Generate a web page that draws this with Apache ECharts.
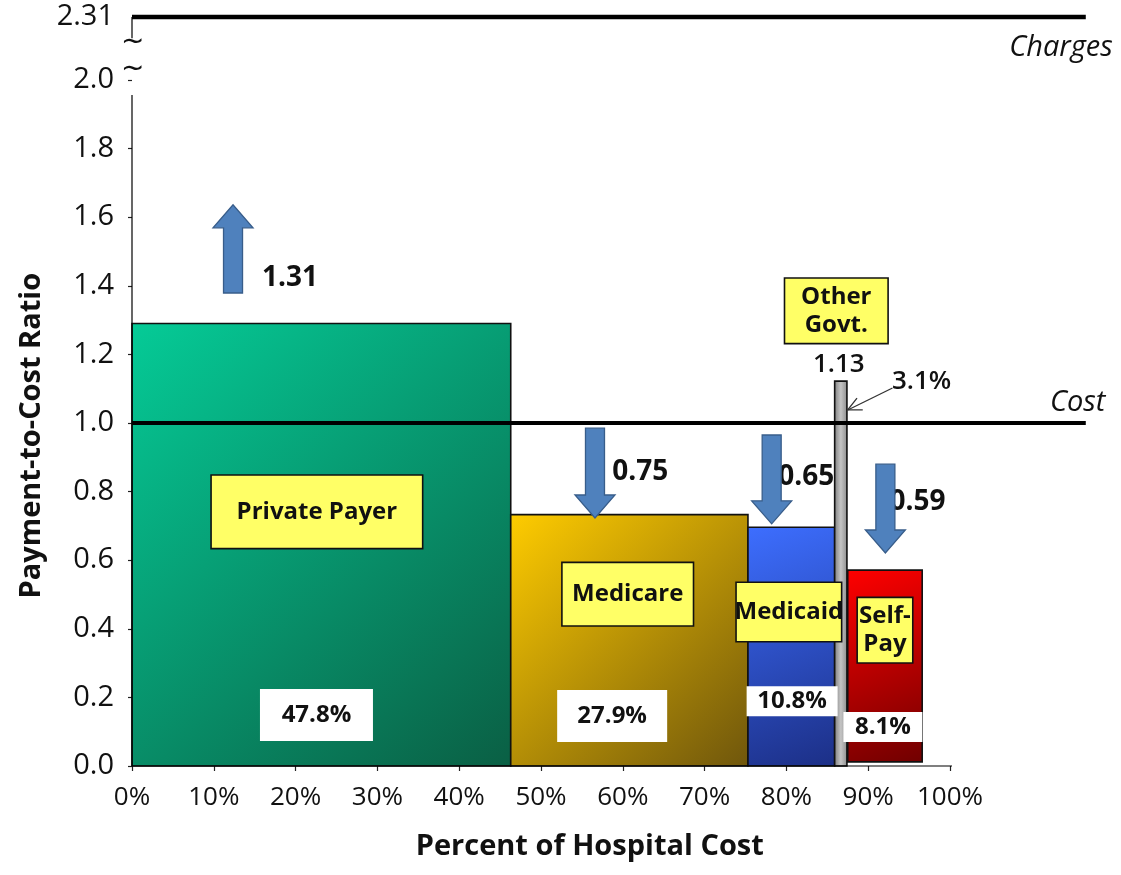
<!DOCTYPE html>
<html><head><meta charset="utf-8">
<script src="https://cdn.jsdelivr.net/npm/echarts@6/dist/echarts.min.js"></script>
<style>html,body{margin:0;padding:0;background:#fff}#c{width:1121px;height:875px}</style>
</head><body><div id="c"></div>
<script>
// ---------- data ----------
const categories   = ['Private Payer', 'Medicare', 'Medicaid', 'Other Govt.', 'Self-Pay'];
const boxText      = ['Private Payer', 'Medicare', 'Medicaid', 'Other\nGovt.', 'Self-\nPay'];
const shareStart   = [0, 46.3, 75.3, 85.9, 87.5];      // % of hospital cost (drawn)
const shareEnd     = [46.3, 75.3, 85.9, 87.4, 96.6];
const barTop       = [1.29, 0.733, 0.696, 1.122, 0.571]; // payment-to-cost ratio (drawn)
const barBase      = [0, 0, 0, 0, 0.012];
const ratioLabels  = ['1.31', '0.75', '0.65', '1.13', '0.59'];
const shareLabels  = ['47.8%', '27.9%', '10.8%', '3.1%', '8.1%'];
const costLevel    = 1.0;
const chargesLevel = 2.184;   // drawn position of the broken-axis 2.31 line
const chargesTick  = '2.31';
const xTicks = [0, 10, 20, 30, 40, 50, 60, 70, 80, 90, 100];
const yTicks = [0, 0.2, 0.4, 0.6, 0.8, 1.0, 1.2, 1.4, 1.6, 1.8, 2.0];
// arrows: x, from, to (data units)
const arrowX    = [12.35, 56.6, 78.2, 92.1];
const arrowFrom = [1.379, 0.985, 0.965, 0.880];
const arrowTo   = [1.636, 0.723, 0.706, 0.621];

// ---------- annotation anchors (data units) ----------
const boxAnchor   = [[22.6, 0.741], [60.6, 0.501], [80.3, 0.449], [86.1, 1.327], [92.05, 0.396]];
const shareAnchor = [[22.55, 0.149], [58.7, 0.146], [80.7, 0.189], null, [91.8, 0.114]];
const ratioAnchor = [[15.9, 1.423], [58.7, 0.857], [79.0, 0.843], [86.4, 1.169], [92.6, 0.770]];
const pctOtherAnchor = [92.9, 1.12];
const pointer = [[92.97, 1.102], [87.5, 1.038]];

const FONT = "'Open Sans', 'DejaVu Sans', sans-serif";
const G = echarts.graphic.LinearGradient;
const fills = [
  new G(0, 0, 1, 1, [{offset: 0, color: '#05CB97'}, {offset: 1, color: '#0A5F44'}]),
  new G(0, 0, 1, 1, [{offset: 0, color: '#FFCC00'}, {offset: 1, color: '#6F560C'}]),
  new G(0, 0, 1, 1, [{offset: 0, color: '#3D6EFF'}, {offset: 1, color: '#1C2F86'}]),
  new G(0, 0, 1, 0, [{offset: 0, color: '#7A7A7A'}, {offset: 0.5, color: '#C4C4C4'}, {offset: 1, color: '#8A8A8A'}]),
  new G(0, 0, 1, 1, [{offset: 0, color: '#FF0000'}, {offset: 1, color: '#700000'}])
];
// box styling (inner width, vertical padding)
const boxW  = [210, 130, 104, 102, 54];
const boxVP = [22, 17, 15, 4, 4];
const shareW = [113, 110, 91, 0, 79];
const shareVP = [12, 12, 1, 0, 1];

const barData = categories.map((c, i) => [shareStart[i], shareEnd[i], barTop[i], barBase[i], i]);
const arrowData = arrowX.map((x, i) => [x, arrowFrom[i], arrowTo[i]]);
const lineData = [
  [0, 0, 100.25, 0],                 // x axis line
  [0, 0, 0, 1.956],                  // y axis lower part
  [0, 2.122, 0, chargesLevel],       // y axis upper part
  [0, costLevel, 116.6, costLevel],  // Cost
  [0, chargesLevel, 116.6, chargesLevel] // Charges
];
const lineWidths = [1.2, 1.2, 1.2, 4, 4.5];

const boxItems = categories.map((c, i) => ({
  value: boxAnchor[i],
  label: {
    show: true, position: 'inside', formatter: boxText[i],
    backgroundColor: '#FFFF66', borderColor: '#111', borderWidth: 1.6,
    width: boxW[i], padding: [boxVP[i], 0], align: 'center', verticalAlign: 'middle',
    fontFamily: FONT, fontWeight: 'bold', fontSize: 24, lineHeight: 28, color: '#111'
  }
}));
const shareItems = [];
shareLabels.forEach((s, i) => {
  if (!shareAnchor[i]) return;
  shareItems.push({
    value: shareAnchor[i],
    label: {
      show: true, position: 'inside', formatter: s,
      backgroundColor: '#FFFFFF', width: shareW[i], padding: [shareVP[i], 0],
      align: 'center', verticalAlign: 'middle',
      fontFamily: FONT, fontWeight: 'bold', fontSize: 24, lineHeight: 28, color: '#111'
    }
  });
});
const ratioItems = ratioLabels.map((r, i) => ({
  value: ratioAnchor[i],
  label: {
    show: true, position: 'inside', formatter: r,
    align: i === 3 ? 'center' : 'left', verticalAlign: 'middle',
    fontFamily: FONT, fontWeight: i === 3 ? 600 : 'bold', fontSize: i === 3 ? 26 : 28, color: '#111'
  }
}));
ratioItems.push({
  value: pctOtherAnchor,
  label: {show: true, position: 'inside', formatter: shareLabels[3], align: 'left', verticalAlign: 'middle',
          fontFamily: FONT, fontWeight: 600, fontSize: 26, color: '#111'}
});
const textItems = [
  {value: [119.9, 2.093], label: {show: true, position: 'inside', formatter: 'Charges', align: 'right', verticalAlign: 'middle',
     fontFamily: FONT, fontStyle: 'italic', fontSize: 29, color: '#111'}},
  {value: [119.0, 1.06], label: {show: true, position: 'inside', formatter: 'Cost', align: 'right', verticalAlign: 'middle',
     fontFamily: FONT, fontStyle: 'italic', fontSize: 29, color: '#111'}},
  {value: [0.1, 2.108], label: {show: true, position: 'inside', formatter: '~', align: 'center', verticalAlign: 'middle',
     fontFamily: "'DejaVu Sans', sans-serif", fontSize: 28, color: '#111'}},
  {value: [0.1, 2.029], label: {show: true, position: 'inside', formatter: '~', align: 'center', verticalAlign: 'middle',
     fontFamily: "'DejaVu Sans', sans-serif", fontSize: 28, color: '#111'}}
];

const hiddenSym = {symbolSize: 1, itemStyle: {color: 'rgba(0,0,0,0)', opacity: 1}, silent: true};

const option = {
  animation: false,
  backgroundColor: '#ffffff',
  grid: {left: 132, right: 7.4, top: 11.4, bottom: 109},
  xAxis: {
    type: 'value', min: 0, max: 120,
    axisLine: {show: false}, splitLine: {show: false},
    axisTick: {show: true, length: 5, customValues: xTicks, lineStyle: {color: '#222', width: 1.2}},
    axisLabel: {customValues: xTicks, formatter: v => v + '%', margin: 19,
                fontFamily: FONT, fontSize: 26, color: '#111'},
    name: 'Percent of Hospital Cost', nameLocation: 'middle', nameGap: 66,
    nameTextStyle: {fontFamily: FONT, fontWeight: 'bold', fontSize: 29, color: '#111', padding: [0, 66, 0, 0]}
  },
  yAxis: {
    type: 'value', min: 0, max: 2.2,
    axisLine: {show: false}, splitLine: {show: false},
    axisTick: {show: true, length: 4, customValues: yTicks, lineStyle: {color: '#222', width: 1.2}},
    axisLabel: {customValues: yTicks.concat([chargesLevel]),
                formatter: v => (v > 2.1 ? chargesTick : v.toFixed(1)), margin: 18,
                fontFamily: FONT, fontSize: 29, color: '#111'},
    name: 'Payment-to-Cost Ratio', nameLocation: 'middle', nameGap: 79,
    nameTextStyle: {fontFamily: FONT, fontWeight: 'bold', fontSize: 29, color: '#111', padding: [0, 94, 0, 0]}
  },
  series: [
    {
      type: 'custom', name: 'bars', z: 2, silent: true,
      data: barData, encode: {x: [0, 1], y: [2, 3]},
      renderItem: (params, api) => {
        const p0 = api.coord([api.value(0), api.value(2)]);
        const p1 = api.coord([api.value(1), api.value(3)]);
        const i = api.value(4);
        return {type: 'rect', shape: {x: p0[0], y: p0[1], width: p1[0] - p0[0], height: p1[1] - p0[1]},
                style: {fill: fills[i], stroke: '#111', lineWidth: 1.6}};
      }
    },
    {
      type: 'scatter', name: 'shares', z: 4, data: shareItems, ...hiddenSym
    },
    {
      type: 'scatter', name: 'ratios', z: 4, data: ratioItems, ...hiddenSym
    },
    {
      type: 'scatter', name: 'boxes', z: 5, data: boxItems, ...hiddenSym
    },
    {
      type: 'custom', name: 'arrows', z: 6, silent: true,
      data: arrowData, encode: {x: 0, y: [1, 2]},
      renderItem: (params, api) => {
        const a = api.coord([api.value(0), api.value(1)]);
        const b = api.coord([api.value(0), api.value(2)]);
        const dir = b[1] > a[1] ? 1 : -1;
        const sw = 9.5, hw = 20, hl = 23, cx = a[0];
        const by = b[1] - dir * hl;
        return {type: 'polygon', shape: {points: [
          [cx - sw, a[1]], [cx + sw, a[1]], [cx + sw, by], [cx + hw, by], [cx, b[1]], [cx - hw, by], [cx - sw, by]
        ]}, style: {fill: '#4F81BD', stroke: '#385D8A', lineWidth: 1.3}};
      }
    },
    {
      type: 'custom', name: 'pointer', z: 6, silent: true,
      data: [[pointer[0][0], pointer[0][1], pointer[1][0], pointer[1][1]]],
      renderItem: (params, api) => {
        const a = api.coord([api.value(0), api.value(1)]);
        const b = api.coord([api.value(2), api.value(3)]);
        const ang = Math.atan2(a[1] - b[1], a[0] - b[0]);
        const L = 15, sp = 0.45;
        const h1 = [b[0] + L * Math.cos(ang + sp), b[1] + L * Math.sin(ang + sp)];
        const h2 = [b[0] + L * Math.cos(ang - sp), b[1] + L * Math.sin(ang - sp)];
        return {type: 'group', children: [
          {type: 'line', shape: {x1: a[0], y1: a[1], x2: b[0], y2: b[1]}, style: {stroke: '#333', lineWidth: 1.3}},
          {type: 'polyline', shape: {points: [h1, b, h2]}, style: {stroke: '#333', lineWidth: 1.3, fill: null}}
        ]};
      }
    },
    {
      type: 'custom', name: 'lines', z: 7, silent: true,
      data: lineData.map((d, i) => d.concat([i])), encode: {x: [0, 2], y: [1, 3]},
      renderItem: (params, api) => {
        const a = api.coord([api.value(0), api.value(1)]);
        const b = api.coord([api.value(2), api.value(3)]);
        return {type: 'line', shape: {x1: a[0], y1: a[1], x2: b[0], y2: b[1]},
                style: {stroke: '#000', lineWidth: lineWidths[api.value(4)]}};
      }
    },
    {
      type: 'scatter', name: 'texts', z: 8, data: textItems, ...hiddenSym
    }
  ]
};
const chart = echarts.init(document.getElementById('c'));
chart.setOption(option);
</script></body></html>
